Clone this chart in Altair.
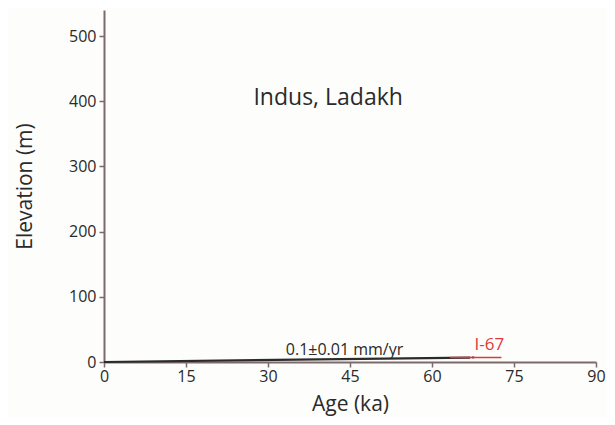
import altair as alt
import pandas as pd

# data
line_age = [0, 67]
line_elev = [0, 6.7]
sample = ["I-67"]
sample_age = [67.5]
sample_age_lo = [63.3]
sample_age_hi = [72.7]
sample_elev = [7.0]
rate_label = "0.1±0.01 mm/yr"
rate_pos = [44, 18.5]
sample_label_pos = [70.5, 26]
site_label = "Indus, Ladakh"
site_pos = [41, 405]

FONT = "Open Sans"
AXC = "#7d6b6b"

x_scale = alt.Scale(domain=[0, 90], nice=False)
y_scale = alt.Scale(domain=[0, 540], nice=False)

line_df = pd.DataFrame({"age": line_age, "elev": line_elev})
pt_df = pd.DataFrame({"sample": sample, "age": sample_age, "lo": sample_age_lo,
                      "hi": sample_age_hi, "elev": sample_elev})

x_axis = alt.Axis(values=list(range(0, 91, 15)), title="Age (ka)", grid=False,
                  domainColor=AXC, domainWidth=2, tickColor=AXC, tickWidth=1.5, tickSize=5,
                  labelFont=FONT, labelFontSize=16, labelColor="#2a2a2a", labelPadding=1,
                  labelFlush=False,
                  titleFont=FONT, titleFontSize=21, titleFontWeight="normal", titleColor="#2a2a2a",
                  titleY=42, titleBaseline="middle")
y_axis = alt.Axis(values=list(range(0, 501, 100)), title="Elevation (m)", grid=False,
                  domainColor=AXC, domainWidth=2, tickColor=AXC, tickWidth=1.5, tickSize=5,
                  labelFont=FONT, labelFontSize=16, labelColor="#2a2a2a", labelPadding=3,
                  labelFlush=False,
                  titleFont=FONT, titleFontSize=21, titleFontWeight="normal", titleColor="#2a2a2a",
                  titleX=-79, titleBaseline="middle", titleAngle=-90)

line = alt.Chart(line_df).mark_line(color="#2b2b2b", strokeWidth=2.2).encode(
    x=alt.X("age:Q", scale=x_scale, axis=x_axis),
    y=alt.Y("elev:Q", scale=y_scale, axis=y_axis),
)

err = alt.Chart(pt_df).mark_rule(color="#e0393b", strokeWidth=1.6).encode(
    x=alt.X("lo:Q", scale=x_scale), x2="hi:Q", y=alt.Y("elev:Q", scale=y_scale))

pt = alt.Chart(pt_df).mark_point(color="#c23030", filled=True, size=8).encode(
    x=alt.X("age:Q", scale=x_scale), y=alt.Y("elev:Q", scale=y_scale))

txt_df = pd.DataFrame({
    "t": [rate_label, sample[0], site_label],
    "age": [rate_pos[0], sample_label_pos[0], site_pos[0]],
    "elev": [rate_pos[1], sample_label_pos[1], site_pos[1]],
    "c": ["#2a2a2a", "#e0393b", "#2a2a2a"],
    "s": [16, 17, 23],
})

texts = alt.Chart(txt_df).mark_text(font=FONT, baseline="middle", align="center").encode(
    x=alt.X("age:Q", scale=x_scale), y=alt.Y("elev:Q", scale=y_scale),
    text="t:N", color=alt.Color("c:N", scale=None), size=alt.Size("s:Q", scale=None))

chart = alt.layer(line, err, pt, texts).properties(
    width=492, height=352,
    autosize=alt.AutoSizeParams(type="none"),
    padding={"left": 96, "top": 2, "right": 11, "bottom": 55},
    background="#fdfdfb",
).configure_view(stroke=None)

chart.save("out.html", embed_options={"renderer": "svg", "actions": False})
